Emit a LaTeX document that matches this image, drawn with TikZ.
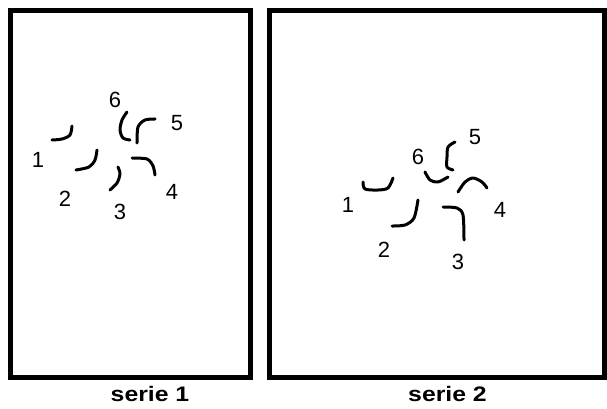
\documentclass[tikz,border=0pt]{standalone}
\usepackage{fontspec}
\setmainfont{Liberation Sans}
\begin{document}
\begin{tikzpicture}[x=1pt,y=-1pt,
  frame/.style={line width=5pt},
  stroke/.style={line width=3pt,line cap=round,line join=round},
  lbl/.style={font=\fontsize{22}{22}\selectfont,inner sep=0pt},
  captiontext/.style={font=\bfseries\fontsize{21}{21}\selectfont,inner sep=0pt,anchor=base,xscale=1.18}]
\useasboundingbox (0,0) rectangle (607,409);
% frames
\draw[frame] (10.5,10.5) rectangle (250.5,377.5);
\draw[frame] (269.5,10.5) rectangle (604.5,377.5);
% series 1 marks
\draw[stroke] plot[smooth] coordinates {(52,140) (62,139) (70,135) (72,126)};
\draw[stroke] plot[smooth] coordinates {(76,170) (89,167) (95,160) (97,150)};
\draw[stroke] plot[smooth] coordinates {(110,190) (117,183) (120,174) (118,167)};
\draw[stroke] plot[smooth] coordinates {(132,158) (147,159) (153,166) (155,175)};
\draw[stroke] plot[smooth] coordinates {(155,119) (145,120) (138,127) (137,143)};
\draw[stroke] plot[smooth] coordinates {(127,112) (122,120) (120,130) (123,138) (130,140)};
% series 1 labels
\node[lbl] (a1) at (38,160) {1};
\node[lbl] (a2) at (65,199) {2};
\node[lbl] (a3) at (120,212) {3};
\node[lbl] (a4) at (172,192) {4};
\node[lbl] (a5) at (177,123) {5};
\node[lbl] (a6) at (115,100) {6};
% series 2 marks
\draw[stroke] plot[smooth] coordinates {(363,182) (365,189) (378,190) (388,188) (393,178)};
\draw[stroke] plot[smooth] coordinates {(392,226) (405,225) (414,218) (418,200)};
\draw[stroke] plot[smooth] coordinates {(443,207) (457,208) (463,215) (464,240)};
\draw[stroke] plot[smooth] coordinates {(458,192) (465,182) (473,178) (482,182) (487,188)};
\draw[stroke] plot[smooth] coordinates {(455,142) (448,147) (447,157) (447,167) (453,170)};
\draw[stroke] plot[smooth] coordinates {(425,172) (430,180) (438,182) (448,177)};
% series 2 labels
\node[lbl] (b1) at (348,205) {1};
\node[lbl] (b2) at (384,250) {2};
\node[lbl] (b3) at (458,262) {3};
\node[lbl] (b4) at (500,210) {4};
\node[lbl] (b5) at (475,137) {5};
\node[lbl] (b6) at (418,157) {6};
% captions
\node[captiontext] (c1) at (150,401) {serie 1};
\node[captiontext] (c2) at (447.5,401) {serie 2};
\end{tikzpicture}
\end{document}
